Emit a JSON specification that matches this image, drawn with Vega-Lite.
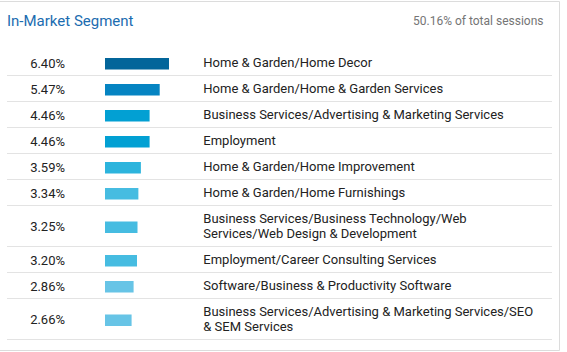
{
  "$schema": "https://vega.github.io/schema/vega-lite/v6.json",
  "width": 560,
  "height": 349,
  "autosize": "none",
  "padding": {"left": -1, "top": 1, "right": 8, "bottom": 2},
  "background": "white",
  "title": {
    "text": "In-Market Segment",
    "anchor": "start",
    "frame": "group",
    "offset": -25,
    "dx": 8,
    "dy": 15,
    "baseline": "alphabetic",
    "font": "Roboto",
    "fontSize": 15,
    "fontWeight": "normal",
    "color": "#1b6cb0"
  },
  "data": {
    "values": [
      {"rank": 1, "segment": "Home & Garden/Home Decor", "share": 0.0640},
      {"rank": 2, "segment": "Home & Garden/Home & Garden Services", "share": 0.0547},
      {"rank": 3, "segment": "Business Services/Advertising & Marketing Services", "share": 0.0446},
      {"rank": 4, "segment": "Employment", "share": 0.0446},
      {"rank": 5, "segment": "Home & Garden/Home Improvement", "share": 0.0359},
      {"rank": 6, "segment": "Home & Garden/Home Furnishings", "share": 0.0334},
      {"rank": 7, "segment": "Business Services/Business Technology/Web\nServices/Web Design & Development", "share": 0.0325},
      {"rank": 8, "segment": "Employment/Career Consulting Services", "share": 0.0320},
      {"rank": 9, "segment": "Software/Business & Productivity Software", "share": 0.0286},
      {"rank": 10, "segment": "Business Services/Advertising & Marketing Services/SEO\n& SEM Services", "share": 0.0266}
    ]
  },
  "transform": [
    {"calculate": "length(split(datum.segment, '\\n'))", "as": "lines"},
    {"calculate": "11 + 15 * datum.lines", "as": "h"},
    {"window": [{"op": "sum", "field": "h", "as": "end"}], "sort": [{"field": "rank", "order": "ascending"}]},
    {"calculate": "datum.end - datum.h / 2", "as": "mid"},
    {"calculate": "datum.mid - 7.5 * (datum.lines - 1)", "as": "ly"},
    {"calculate": "datum.mid - 4.5", "as": "b0"},
    {"calculate": "datum.mid + 7", "as": "b1"}
  ],
  "layer": [
    {
      "mark": {"type": "rule", "color": "#e3e3e3", "strokeWidth": 1},
      "encoding": {
        "x": {
          "datum": -0.098,
          "type": "quantitative",
          "scale": {"domain": [-0.106, 0.454], "nice": false, "zero": false},
          "axis": {
            "orient": "top",
            "title": "50.16% of total sessions",
            "titleX": 544,
            "titleY": 23,
            "titleAlign": "right",
            "titleAnchor": null,
            "titleBaseline": "alphabetic",
            "titleAngle": 0,
            "titleFont": "Roboto",
            "titleFontSize": 12,
            "titleFontWeight": "normal",
            "titleColor": "#757575",
            "labels": false,
            "ticks": false,
            "domain": false,
            "grid": false
          }
        },
        "x2": {"datum": 0.447},
        "y": {"field": "end", "type": "quantitative", "scale": {"domain": [-48.5, 300.5], "reverse": true, "nice": false, "zero": false}}
      }
    },
    {
      "mark": {"type": "rect"},
      "encoding": {
        "x": {"field": "share", "type": "quantitative"},
        "x2": {"datum": 0},
        "y": {"field": "b0", "type": "quantitative", "scale": {"domain": [-48.5, 300.5], "reverse": true, "nice": false, "zero": false}},
        "y2": {"field": "b1"},
        "color": {
          "field": "share",
          "type": "quantitative",
          "scale": {"type": "threshold", "domain": [0.03, 0.035, 0.04, 0.05, 0.06], "range": ["#67c4e6", "#46bce1", "#2cb4dd", "#02a0d3", "#0584c2", "#03659a"]},
          "legend": null
        }
      }
    },
    {
      "mark": {"type": "text", "align": "right", "baseline": "middle", "font": "Roboto", "fontSize": 13, "color": "#222222", "dy": 1},
      "encoding": {
        "x": {"datum": -0.040, "type": "quantitative"},
        "y": {"field": "mid", "type": "quantitative", "scale": {"domain": [-48.5, 300.5], "reverse": true, "nice": false, "zero": false}},
        "text": {"field": "share", "type": "quantitative", "format": ".2%"}
      }
    },
    {
      "mark": {"type": "text", "align": "left", "baseline": "middle", "font": "Roboto", "fontSize": 13, "color": "#222222", "lineBreak": "\n", "lineHeight": 15, "dy": 0.5},
      "encoding": {
        "x": {"datum": 0.0983, "type": "quantitative"},
        "y": {"field": "ly", "type": "quantitative", "scale": {"domain": [-48.5, 300.5], "reverse": true, "nice": false, "zero": false}},
        "text": {"field": "segment", "type": "nominal"}
      }
    }
  ],
  "config": {
    "view": {"stroke": "#dcdcdc", "strokeWidth": 1},
    "axisY": {"disable": true},
    "axisX": {"labels": false, "ticks": false, "domain": false, "grid": false}
  }
}
